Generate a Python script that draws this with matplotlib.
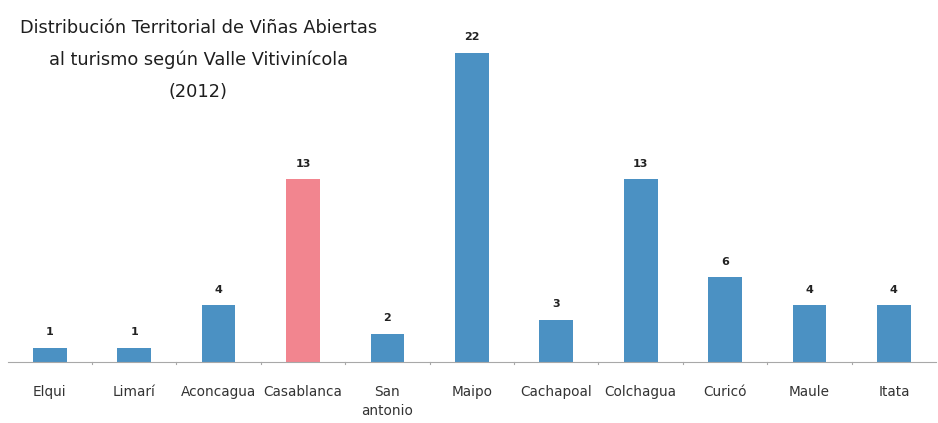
import matplotlib
matplotlib.use("Agg")
import matplotlib.pyplot as plt

valles = ["Elqui", "Limarí", "Aconcagua", "Casablanca", "San\nantonio",
          "Maipo", "Cachapoal", "Colchagua", "Curicó", "Maule", "Itata"]
vinas = [1, 1, 4, 13, 2, 22, 3, 13, 6, 4, 4]
destacado = "Casablanca"

azul = "#4b91c3"
rosa = "#f2858f"
colores = [rosa if v == destacado else azul for v in valles]

fig = plt.figure(figsize=(9.38, 4.23), dpi=100)
ax = fig.add_axes([0.008, 0.145, 0.99, 0.81])

x = range(len(valles))
ax.bar(x, vinas, width=0.4, color=colores, zorder=2)
for xi, v in zip(x, vinas):
    ax.text(xi, v + 0.75, str(v), ha="center", va="bottom",
            fontsize=8, fontweight="bold", color="#222222")

ax.set_xlim(-0.5, len(valles) - 0.5)
ax.set_ylim(0, 24.4)
ax.set_xticks(list(x))
ax.set_xticklabels(valles, fontsize=9.8, color="#333333",
                   family="DejaVu Sans", linespacing=1.4)
ax.tick_params(axis="x", length=0, pad=17)
ax.set_yticks([])
for s in ["top", "right", "left"]:
    ax.spines[s].set_visible(False)
ax.spines["bottom"].set_color("#a8a8a8")
ax.spines["bottom"].set_linewidth(0.8)

# small separators between categories on the baseline
for b in range(1, len(valles)):
    ax.plot([b - 0.5, b - 0.5], [-0.15, 0.0], color="#a8a8a8", lw=0.8,
            clip_on=False)

titulo = ["Distribución Territorial de Viñas Abiertas",
          "al turismo según Valle Vitivinícola",
          "(2012)"]
ys = [0.933, 0.858, 0.783]
for t, yy in zip(titulo, ys):
    fig.text(0.2116, yy, t, ha="center", va="center", fontsize=12.8,
             family="DejaVu Sans", color="#1e1e1e")

fig.savefig("out.png", dpi=100, facecolor="white")
